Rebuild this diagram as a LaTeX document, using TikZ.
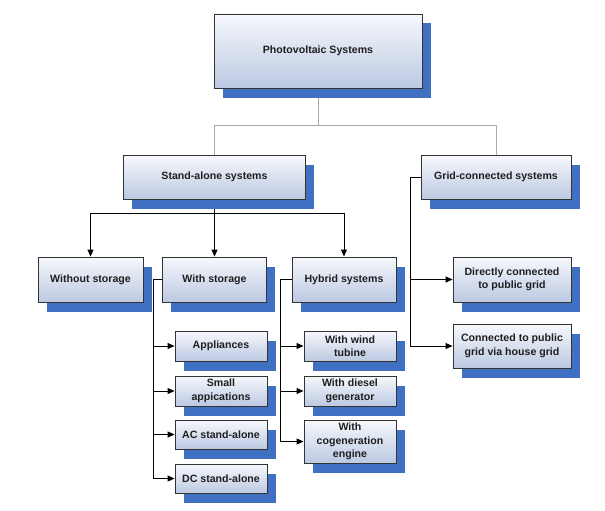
\documentclass[tikz,border=0pt]{standalone}
\usepackage{fontspec}
\setmainfont{Liberation Sans}
\usetikzlibrary{shadows,arrows.meta}
\definecolor{boxtop}{HTML}{F6F8FC}
\definecolor{boxbot}{HTML}{BCC9E2}
\definecolor{shadowblue}{HTML}{4070C2}
\definecolor{edge}{HTML}{333333}
\definecolor{greyline}{HTML}{A8A8A8}
\pgfdeclarelayer{bg}
\pgfsetlayers{bg,main}
\tikzset{
  box/.style={draw=edge, line width=0.9pt, top color=boxtop, bottom color=boxbot,
    general shadow={fill=shadowblue, shadow xshift=8.5pt, shadow yshift=-9.5pt},
    inner sep=0pt, align=center, text=black!88,
    font=\fontsize{10.6}{13.5}\selectfont\bfseries},
  conn/.style={draw=black, line width=0.9pt, -{Triangle[length=7pt,width=6pt]}},
  plain/.style={draw=black, line width=0.9pt},
  glines/.style={draw=greyline, line width=0.8pt}
}
\begin{document}
\begin{tikzpicture}[x=1pt,y=-1pt]
\useasboundingbox (0,0) rectangle (605,511);
% nodes
\node[box, minimum width=208pt, minimum height=74pt] (pv) at (318,51) {Photovoltaic Systems};
\node[box, minimum width=182pt, minimum height=44pt] (sa) at (214.5,177) {Stand-alone systems};
\node[box, minimum width=150pt, minimum height=44pt] (gc) at (496,177) {Grid-connected systems};
\node[box, minimum width=105pt, minimum height=45pt] (wo) at (90.5,279.5) {Without storage};
\node[box, minimum width=104pt, minimum height=45pt] (ws) at (214.5,279.5) {With storage};
\node[box, minimum width=104pt, minimum height=45pt] (hy) at (344,279.5) {Hybrid systems};
\node[box, minimum width=118pt, minimum height=45pt] (dc) at (512,279.5) {Directly connected\\to public grid};
\node[box, minimum width=118pt, minimum height=44pt] (hg) at (512,346) {Connected to public\\grid via house grid};
\node[box, minimum width=92pt, minimum height=30pt] (ap) at (221,346) {Appliances};
\node[box, minimum width=92pt, minimum height=30pt] (sm) at (221,391) {Small\\appications};
\node[box, minimum width=92pt, minimum height=29pt] (ac) at (221,434.5) {AC stand-alone};
\node[box, minimum width=92pt, minimum height=29pt] (dcs) at (221,478.5) {DC stand-alone};
\node[box, minimum width=92pt, minimum height=30pt] (wt) at (350,346) {With wind\\tubine};
\node[box, minimum width=92pt, minimum height=30pt] (dg) at (350,391) {With diesel\\generator};
\node[box, minimum width=92pt, minimum height=43pt] (cg) at (350,441.5) {With\\cogeneration\\engine};
% junction coordinates
\coordinate (j1) at (318,125);
\coordinate (j2) at (214.5,213);
\coordinate (gx) at (410,177);
\coordinate (wx) at (153,279.5);
\coordinate (hx) at (280,279.5);
\begin{pgfonlayer}{bg}
\draw[glines] (pv.south) -- (j1);
\draw[glines] (sa.north) -- (sa.north |- j1) -- (gc.north |- j1) -- (gc.north);
\draw[conn] (sa.south) -- (ws.north);
\draw[conn] (j2) -| (wo.north);
\draw[conn] (j2) -| (hy.north);
\draw[plain] (gc.west) -- (gx);
\draw[conn] (gx) |- (dc.west);
\draw[conn] (gx) |- (hg.west);
\draw[plain] (ws.west) -- (wx);
\draw[conn] (wx) |- (ap.west);
\draw[conn] (wx) |- (sm.west);
\draw[conn] (wx) |- (ac.west);
\draw[conn] (wx) |- (dcs.west);
\draw[plain] (hy.west) -- (hx);
\draw[conn] (hx) |- (wt.west);
\draw[conn] (hx) |- (dg.west);
\draw[conn] (hx) |- (cg.west);
\end{pgfonlayer}
\end{tikzpicture}
\end{document}
